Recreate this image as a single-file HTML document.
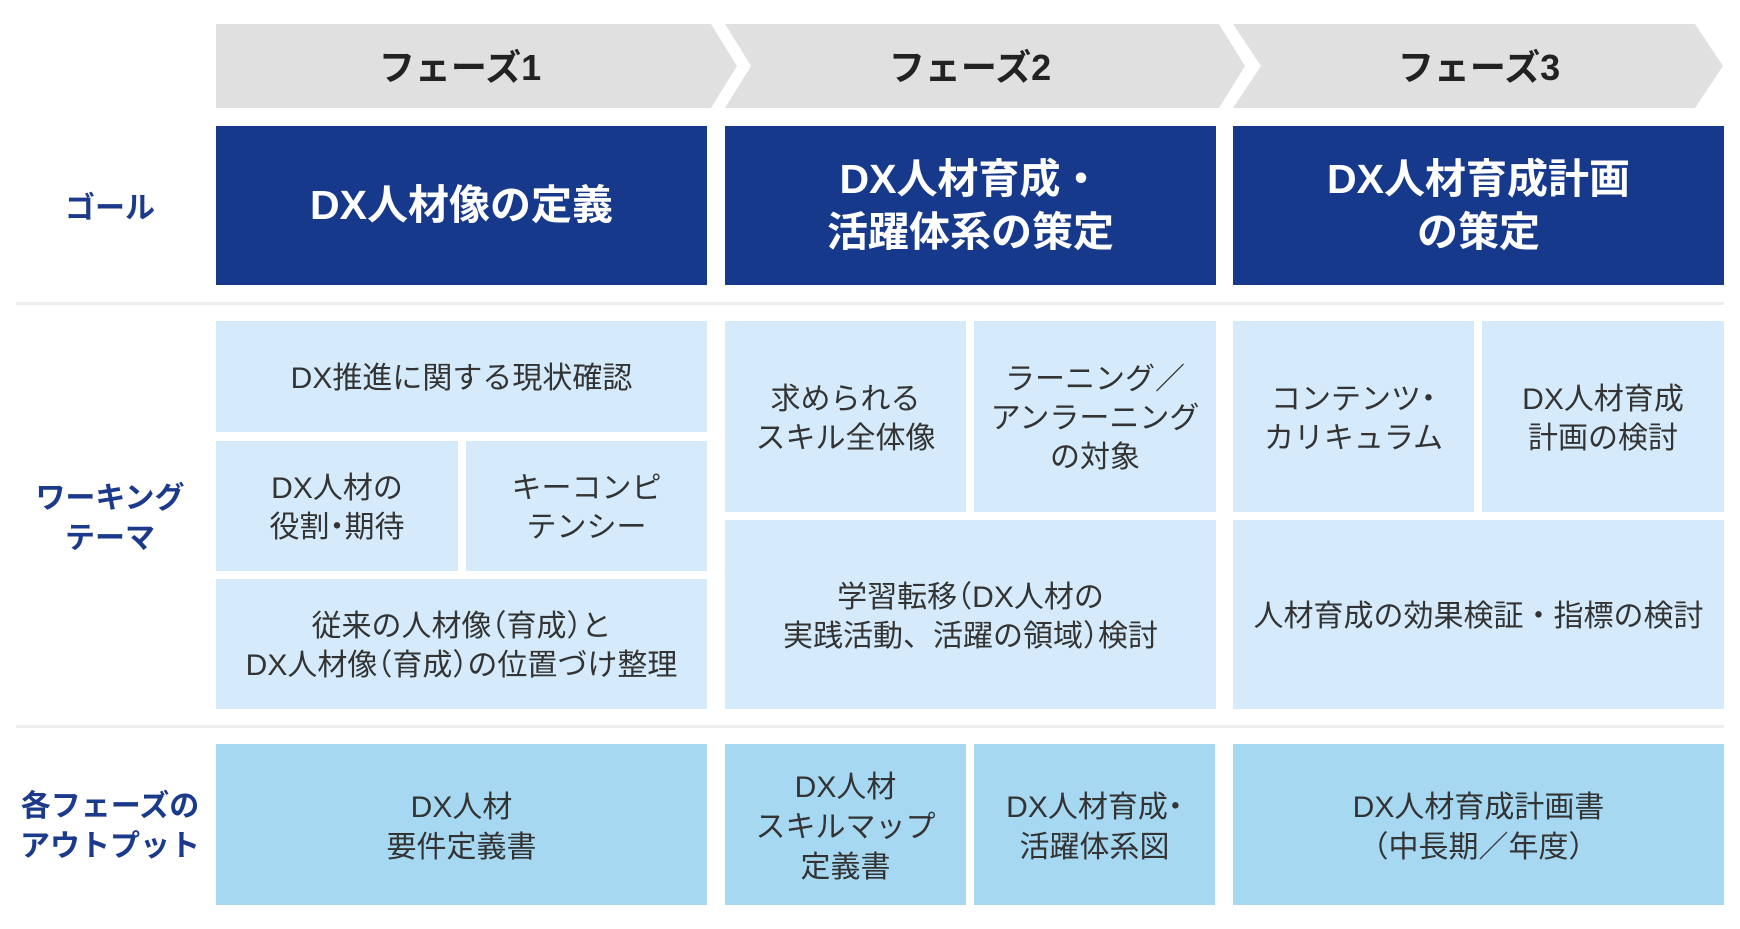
<!DOCTYPE html>
<html lang="ja">
<head>
<meta charset="utf-8">
<style>
  html, body { margin:0; padding:0; background:#ffffff; }
  body { width:1740px; height:929px; position:relative; overflow:hidden;
         font-family:"Liberation Sans","Noto Sans CJK JP",sans-serif; }
  .c { position:absolute; display:flex; align-items:center; justify-content:center;
       text-align:center; box-sizing:border-box; }
  .c > div { white-space:nowrap; }
  .goal { background:#17398c; color:#ffffff; font-weight:bold; font-size:41px; line-height:53px; }
  .theme { background:#d5ebfb; color:#333333; font-size:30px; line-height:39px; padding-top:4px; }
  .out { background:#a6d8f2; color:#333333; font-size:30px; line-height:40px; padding-top:7px; }
  .lbl { color:#1c3a8c; font-weight:bold; font-size:30px; line-height:40px; padding-top:4px; }
  .ph { position:absolute; font-weight:bold; font-size:36px; color:#222222; line-height:40px;
        white-space:nowrap; transform:translateX(-50%); top:48px; }
  .sep { position:absolute; left:16px; width:1708px; height:3px; background:#eeeeee; }
  .h { font-feature-settings:"halt"; }
</style>
</head>
<body>

<svg width="1740" height="929" style="position:absolute;left:0;top:0">
  <polygon points="216,24 711,24 737,66 711,108 216,108" fill="#e0e0e0"/>
  <polygon points="725,24 1219,24 1245,66 1219,108 725,108 751,66" fill="#e0e0e0"/>
  <polygon points="1233,24 1695,24 1723,66 1695,108 1233,108 1261,66" fill="#e0e0e0"/>
</svg>

<div class="ph" style="left:460px">フェーズ1</div>
<div class="ph" style="left:970px">フェーズ2</div>
<div class="ph" style="left:1479px">フェーズ3</div>

<!-- Goal row -->
<div class="c lbl" style="left:30px;top:187px;width:160px;height:40px;"><div>ゴール</div></div>
<div class="c goal" style="left:216px;top:126px;width:491px;height:159px;"><div>DX人材像の定義</div></div>
<div class="c goal" style="left:725px;top:126px;width:491px;height:159px;"><div>DX人材育成・<br>活躍体系の策定</div></div>
<div class="c goal" style="left:1233px;top:126px;width:491px;height:159px;"><div>DX人材育成計画<br>の策定</div></div>

<div class="sep" style="top:302px;"></div>

<!-- Working theme -->
<div class="c lbl" style="left:20px;top:477px;width:180px;height:80px;"><div>ワーキング<br>テーマ</div></div>

<div class="c theme" style="left:216px;top:321px;width:491px;height:111px;"><div>DX推進に関する現状確認</div></div>
<div class="c theme" style="left:216px;top:441px;width:242px;height:130px;"><div>DX人材の<br>役割<span class="h">・</span>期待</div></div>
<div class="c theme" style="left:466px;top:441px;width:241px;height:130px;"><div>キーコンピ<br>テンシー</div></div>
<div class="c theme" style="left:216px;top:579px;width:491px;height:130px;"><div>従来の人材像<span class="h">（</span>育成<span class="h">）</span>と<br>DX人材像<span class="h">（</span>育成<span class="h">）</span>の位置づけ整理</div></div>

<div class="c theme" style="left:725px;top:321px;width:241px;height:191px;"><div>求められる<br>スキル全体像</div></div>
<div class="c theme" style="left:974px;top:321px;width:242px;height:191px;"><div>ラーニング／<br>アンラーニング<br>の対象</div></div>
<div class="c theme" style="left:725px;top:520px;width:491px;height:189px;"><div>学習転移<span class="h">（</span>DX人材の<br>実践活動、活躍の領域<span class="h">）</span>検討</div></div>

<div class="c theme" style="left:1233px;top:321px;width:241px;height:191px;"><div>コンテンツ<span class="h">・</span><br>カリキュラム</div></div>
<div class="c theme" style="left:1482px;top:321px;width:242px;height:191px;"><div>DX人材育成<br>計画の検討</div></div>
<div class="c theme" style="left:1233px;top:520px;width:491px;height:189px;"><div>人材育成の効果検証・指標の検討</div></div>

<div class="sep" style="top:725px;"></div>

<!-- Outputs -->
<div class="c lbl" style="left:10px;top:785px;width:200px;height:80px;"><div>各フェーズの<br>アウトプット</div></div>

<div class="c out" style="left:216px;top:744px;width:491px;height:161px;"><div>DX人材<br>要件定義書</div></div>
<div class="c out" style="left:725px;top:744px;width:241px;height:161px;"><div>DX人材<br>スキルマップ<br>定義書</div></div>
<div class="c out" style="left:974px;top:744px;width:241px;height:161px;"><div>DX人材育成<span class="h">・</span><br>活躍体系図</div></div>
<div class="c out" style="left:1233px;top:744px;width:491px;height:161px;"><div>DX人材育成計画書<br><span class="h">（</span>中長期／年度<span class="h">）</span></div></div>

</body>
</html>
